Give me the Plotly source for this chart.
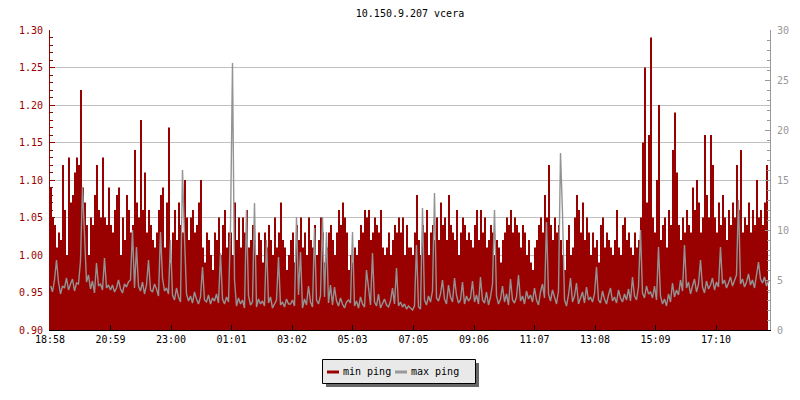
import plotly.graph_objects as go

title_text = "10.150.9.207 vcera"
tick_minutes = [0, 121, 242, 363, 484, 605, 727, 848, 969, 1090, 1211, 1332]
tick_labels = ["18:58", "20:59", "23:00", "01:01", "03:02", "05:03",
               "07:05", "09:06", "11:07", "13:08", "15:09", "17:10"]
series_names = ["min ping", "max ping"]
step_minutes = 4  # one sample every 4 minutes over 24 h

# min ping (ms), left axis
min_ping = [
    1.09, 1.05, 1.04, 1.01, 1.03, 1.02, 1.12, 1.06, 1.00, 1.13, 1.07, 1.08, 1.11, 1.13, 1.12, 1.22, 1.09, 1.07, 1.04, 1.00, 1.05, 1.04, 1.08, 1.12, 1.06, 1.05, 1.13, 1.05, 1.04, 1.09,
    1.04, 1.03, 1.06, 1.08, 1.09, 1.00, 1.05, 1.02, 1.08, 1.06, 1.03, 1.04, 1.14, 1.07, 1.05, 1.18, 1.06, 1.11, 1.03, 1.06, 1.04, 1.02, 1.01, 1.03, 1.06, 1.08, 1.09, 1.01, 1.07, 1.17,
    0.99, 1.03, 1.06, 1.02, 1.07, 1.04, 1.03, 1.10, 1.05, 1.02, 1.05, 1.06, 1.03, 1.04, 1.07, 1.10, 1.01, 0.99, 1.03, 1.02, 1.00, 0.98, 1.03, 1.02, 1.05, 1.00, 1.04, 1.06, 1.01, 1.03,
    1.03, 1.00, 1.07, 1.02, 1.05, 1.01, 1.05, 1.03, 1.06, 1.01, 1.02, 1.04, 1.02, 1.00, 1.03, 1.02, 0.99, 1.03, 1.01, 1.04, 1.02, 1.00, 1.05, 1.01, 1.03, 1.07, 1.02, 1.01, 0.98, 1.00,
    1.02, 1.03, 0.99, 1.04, 1.02, 1.05, 1.01, 1.03, 1.00, 1.05, 1.02, 1.01, 1.04, 1.00, 1.02, 1.05, 1.03, 0.99, 1.01, 1.03, 1.04, 1.02, 1.00, 1.03, 1.06, 1.04, 1.07, 1.05, 1.03, 0.98,
    1.00, 0.99, 1.01, 1.00, 1.02, 1.04, 1.03, 1.06, 1.05, 1.06, 1.02, 1.03, 1.05, 1.04, 1.03, 1.06, 1.01, 1.00, 1.01, 1.03, 1.00, 1.02, 1.04, 1.03, 1.05, 1.03, 1.05, 1.00, 1.04, 1.01,
    1.01, 1.00, 1.03, 1.08, 1.02, 1.00, 1.04, 1.03, 1.06, 1.00, 1.03, 1.04, 1.02, 1.05, 1.02, 1.07, 1.04, 1.05, 1.02, 1.08, 1.04, 1.03, 1.02, 1.06, 1.00, 1.03, 1.05, 1.04, 1.02, 1.03,
    1.02, 1.01, 1.04, 1.06, 1.02, 1.06, 1.03, 1.05, 1.01, 1.02, 1.04, 1.03, 1.00, 1.02, 1.01, 0.99, 1.02, 1.03, 1.05, 1.04, 1.06, 1.03, 1.05, 1.04, 1.03, 1.01, 1.04, 1.03, 1.00, 1.02,
    0.99, 0.98, 1.01, 1.02, 1.04, 1.05, 1.03, 1.08, 1.05, 1.12, 1.04, 1.02, 1.05, 1.03, 1.04, 1.02, 1.00, 0.98, 1.02, 1.04, 1.00, 1.01, 1.05, 1.08, 1.06, 1.03, 1.07, 1.02, 1.05, 1.03,
    1.00, 1.03, 1.01, 1.02, 0.99, 1.04, 1.05, 1.01, 1.03, 1.02, 1.01, 1.00, 1.02, 1.06, 1.01, 1.00, 1.04, 1.05, 1.02, 1.03, 1.01, 1.00, 1.03, 1.01, 1.02, 1.05, 1.15, 1.25, 1.07, 1.16,
    1.29, 1.05, 1.03, 1.10, 1.20, 1.02, 1.04, 1.05, 1.01, 1.06, 1.04, 1.14, 1.19, 1.11, 1.04, 1.02, 1.05, 1.03, 1.06, 1.04, 1.03, 1.09, 1.06, 1.10, 1.07, 1.03, 1.05, 1.16, 1.08, 1.05,
    1.16, 1.12, 1.05, 1.03, 1.07, 1.04, 1.08, 1.05, 1.02, 1.06, 1.04, 1.07, 1.05, 1.12, 1.06, 1.14, 1.03, 1.05, 1.04, 1.07, 1.03, 1.06, 1.04, 1.10, 1.05, 1.06, 1.04, 1.07, 1.12, 1.03,
]

# max ping (ms), right axis
max_ping = [
    4.5, 3.8, 5.0, 7.0, 4.8, 3.6, 4.4, 4.2, 5.2, 4.0, 4.6, 5.1, 3.9, 4.7, 4.6, 6.9, 14.3, 9.3, 4.8, 5.5, 4.1, 4.9, 3.7, 6.7, 4.4, 4.6, 4.0, 7.2, 4.2, 4.5,
    4.0, 4.5, 3.8, 4.2, 5.0, 4.1, 3.7, 4.6, 4.3, 4.8, 5.0, 10.0, 4.2, 8.3, 4.4, 3.9, 4.8, 3.6, 4.5, 7.0, 4.0, 3.8, 4.6, 4.1, 3.4, 9.8, 5.2, 3.9, 4.2, 3.6,
    9.0, 3.5, 3.0, 4.2, 3.3, 2.8, 16.0, 9.3, 3.6, 2.9, 3.4, 2.7, 3.8, 3.1, 2.6, 3.3, 6.3, 3.0, 2.8, 3.5, 2.6, 3.2, 2.9, 3.6, 2.7, 7.7, 3.1, 2.6, 3.3, 2.8,
    10.3, 26.7, 5.0, 2.4, 3.2, 2.6, 3.0, 2.2, 12.0, 3.4, 2.5, 2.8, 12.7, 2.3, 3.1, 2.6, 2.9, 2.4, 9.0, 2.7, 3.3, 2.2, 2.6, 3.0, 7.3, 2.5, 2.8, 2.3, 3.1, 2.6,
    2.6, 3.0, 2.4, 11.3, 3.5, 7.8, 2.2, 3.1, 2.5, 4.4, 2.8, 2.3, 10.2, 3.0, 2.6, 3.4, 11.3, 3.3, 9.8, 2.7, 4.5, 2.5, 4.3, 2.9, 2.4, 3.2, 2.6, 2.2, 2.8, 3.0,
    2.7, 9.8, 2.4, 2.9, 2.2, 3.3, 2.6, 2.3, 6.0, 4.0, 2.5, 7.7, 2.8, 2.4, 3.6, 2.2, 2.7, 3.1, 2.5, 2.3, 2.9, 4.2, 2.6, 6.2, 2.4, 2.8, 2.3, 2.6, 2.1, 2.4,
    2.2, 2.0, 2.4, 8.5, 2.3, 2.1, 12.2, 3.0, 2.5, 3.4, 2.8, 3.9, 13.7, 3.2, 2.9, 3.6, 5.0, 3.1, 2.6, 4.5, 3.3, 2.8, 5.2, 3.5, 2.7, 3.0, 4.8, 2.6, 3.4, 2.9,
    3.2, 4.9, 2.8, 3.5, 2.6, 5.3, 3.0, 2.7, 3.8, 2.5, 3.3, 4.6, 12.0, 3.4, 2.6, 3.1, 4.4, 2.8, 3.6, 2.5, 5.1, 3.0, 2.7, 3.3, 5.5, 2.9, 3.4, 2.6, 3.9, 3.1,
    3.5, 2.8, 4.2, 3.0, 2.5, 3.8, 4.6, 3.2, 10.8, 3.6, 2.9, 4.0, 3.3, 2.6, 3.9, 17.7, 11.7, 3.0, 2.4, 3.5, 5.2, 2.8, 3.4, 4.7, 2.6, 3.1, 3.8, 2.7, 4.3, 3.0,
    3.3, 2.8, 3.6, 6.3, 3.0, 2.7, 3.9, 3.1, 2.6, 3.5, 4.2, 2.9, 3.3, 2.7, 4.0, 3.2, 2.8, 3.6, 3.0, 4.1, 2.9, 5.3, 3.4, 3.0, 4.3, 10.0, 3.7, 3.2, 4.4, 3.6,
    3.8, 3.2, 4.4, 3.0, 8.3, 3.4, 2.6, 3.1, 2.4, 3.6, 2.8, 4.7, 3.3, 4.0, 3.5, 5.0, 3.9, 8.5, 4.2, 4.8, 3.6, 4.4, 5.1, 3.8, 4.6, 7.0, 4.3, 3.7, 4.9, 4.1,
    4.5, 5.2, 4.0, 4.8, 4.3, 8.3, 4.6, 5.0, 4.2, 4.7, 5.3, 4.4, 4.9, 5.5, 13.0, 4.6, 5.1, 4.3, 4.8, 5.6, 4.5, 5.0, 4.2, 5.4, 6.8, 5.1, 4.7, 5.3, 4.4, 4.9,
]

minutes = [i * step_minutes for i in range(len(min_ping))]

RED = "#990000"
GRAY = "#999999"
FONT = "DejaVu Sans Mono"

# The page body has an 8 px margin, so the figure is 8 px smaller than the
# window and all pixel positions below are window pixels minus 8.
OFF = 8
W, H = 800 - OFF, 400 - OFF
L, R, T, B = 50 - OFF, 30, 30 - OFF, 70
PW, PH = W - L - R, H - T - B


def px(xw):
    """window x pixel -> paper coordinate"""
    return (xw - OFF - L) / PW


def py(yw):
    """window y pixel -> paper coordinate"""
    return (H - B - (yw - OFF)) / PH


fig = go.Figure()
fig.add_trace(go.Scatter(
    x=minutes, y=min_ping, name=series_names[0], mode="lines",
    line=dict(color=RED, width=0, shape="hv"),
    fill="tozeroy", fillcolor=RED, yaxis="y", hoverinfo="skip", showlegend=False))
fig.add_trace(go.Scatter(
    x=[m + 1 for m in minutes], y=max_ping, name=series_names[1], mode="lines",
    line=dict(color="#939393", width=1.4),
    yaxis="y2", hoverinfo="skip", showlegend=False))

shapes = [
    # legend shadow
    dict(type="rect", xref="paper", yref="paper", x0=px(326), x1=px(479), y0=py(387), y1=py(363),
         fillcolor="#666666", line=dict(width=0), layer="above"),
    # legend box
    dict(type="rect", xref="paper", yref="paper", x0=px(322.5), x1=px(475.5), y0=py(383.5), y1=py(359.5),
         fillcolor="#e9e9e9", line=dict(color="black", width=1), layer="above"),
    # legend swatches
    dict(type="line", xref="paper", yref="paper", x0=px(327), x1=px(339), y0=py(372), y1=py(372),
         line=dict(color=RED, width=3), layer="above"),
    dict(type="line", xref="paper", yref="paper", x0=px(395), x1=px(407), y0=py(372), y1=py(372),
         line=dict(color=GRAY, width=3), layer="above"),
]
annotations = [
    dict(text=series_names[0], xref="paper", yref="paper", x=px(341), y=py(371.5),
         xanchor="left", yanchor="middle", showarrow=False,
         font=dict(family=FONT, size=10, color="black")),
    dict(text=series_names[1], xref="paper", yref="paper", x=px(409), y=py(371.5),
         xanchor="left", yanchor="middle", showarrow=False,
         font=dict(family=FONT, size=10, color="black")),
]

fig.update_layout(
    width=W, height=H,
    margin=dict(l=L, r=R, t=T, b=B, autoexpand=False),
    paper_bgcolor="white", plot_bgcolor="white",
    font=dict(family=FONT, size=10, color="black"),
    title=dict(text=title_text, x=0.5, xref="paper", y=1 - (13 - OFF) / H,
               yref="container", yanchor="middle", xanchor="center",
               font=dict(family=FONT, size=10, color="black")),
    xaxis=dict(range=[0, 1440], tickvals=tick_minutes, ticktext=tick_labels,
               ticks="inside", ticklen=5, tickcolor="black",
               showline=True, linecolor="black", linewidth=1,
               showgrid=False, zeroline=False, automargin=False,
               tickfont=dict(color="black", size=10)),
    yaxis=dict(range=[0.9, 1.3], tickvals=[0.90, 0.95, 1.00, 1.05, 1.10, 1.15, 1.20, 1.25, 1.30],
               tickformat=".2f", ticks="inside", ticklen=5, tickcolor=RED,
               showline=True, linecolor=RED, linewidth=1, automargin=False,
               gridcolor="#c0c0c0", gridwidth=1, zeroline=False,
               tickfont=dict(color=RED, size=10), ticklabelstandoff=4,
               minor=dict(dtick=0.01, tick0=0.9, ticks="inside", ticklen=3,
                          tickcolor=RED, showgrid=False)),
    yaxis2=dict(range=[0, 30], overlaying="y", side="right",
                tickvals=[0, 5, 10, 15, 20, 25, 30],
                ticks="inside", ticklen=5, tickcolor=GRAY,
                showline=True, linecolor=GRAY, linewidth=1, automargin=False,
                showgrid=False, zeroline=False,
                tickfont=dict(color=GRAY, size=10), ticklabelstandoff=4,
                minor=dict(dtick=1, tick0=0, ticks="inside", ticklen=3,
                           tickcolor=GRAY, showgrid=False)),
    shapes=shapes,
    annotations=annotations,
    showlegend=False,
)

fig.write_html("out.html")
